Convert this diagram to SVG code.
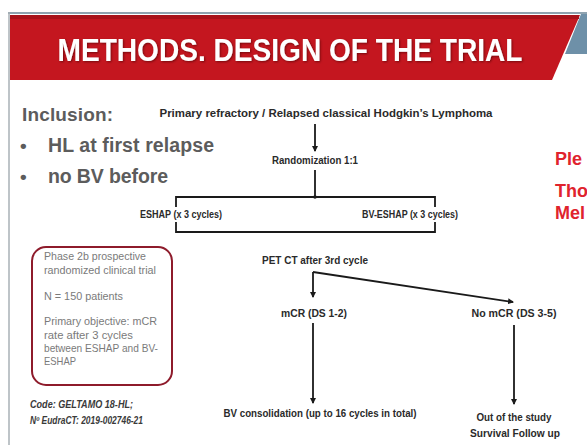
<svg xmlns="http://www.w3.org/2000/svg" width="587" height="445" viewBox="0 0 587 445">
  <style>
    .title { font-family: "Liberation Sans", Arial, sans-serif; font-weight: bold; font-size: 31px; fill: #ffffff; }
    .incl { font-family: "Liberation Sans", Arial, sans-serif; font-weight: bold; fill: #5c5c5c; }
    .flow { font-family: "Liberation Sans", Arial, sans-serif; font-weight: bold; font-size: 10px; fill: #2a2a2a; }
    .note { font-family: "Liberation Sans", Arial, sans-serif; font-size: 10.5px; fill: #7a7a7a; }
    .code { font-family: "Liberation Sans", Arial, sans-serif; font-weight: bold; font-style: italic; font-size: 10px; fill: #3a3a3a; }
    .side { font-family: "Liberation Sans", Arial, sans-serif; font-weight: bold; font-size: 18px; fill: #e0232d; }
    .wire { fill: none; stroke: #1a1a1a; stroke-width: 1.8; }
  </style>
  <defs>
    <marker id="arrow" viewBox="0 0 6 6" refX="5" refY="3" markerWidth="6" markerHeight="6" markerUnits="userSpaceOnUse" orient="auto">
      <path d="M0,0 L6,3 L0,6 z" fill="#1a1a1a"/>
    </marker>
    <filter id="shadow" x="-5%" y="-20%" width="110%" height="140%">
      <feDropShadow dx="1" dy="1" stdDeviation="0.8" flood-color="#400000" flood-opacity="0.6"/>
    </filter>
  </defs>

  <rect width="587" height="445" fill="#ffffff"/>

  <!-- slide frame -->
  <g id="frame">
    <line x1="8" y1="13" x2="587" y2="13" stroke="#8fa3b0" stroke-width="2"/>
    <line x1="9" y1="12" x2="9" y2="445" stroke="#a9b0b6" stroke-width="1.5"/>
  </g>

  <!-- header banner -->
  <g id="header">
    <polygon points="581,14 587,14 587,54 565,54" fill="#6e90a8"/>
    <polygon points="10,15 580,15 552,80 10,80" fill="#c4161f"/>
    <rect x="10" y="15" width="569" height="4" fill="#a8121a"/>
    <text class="title" x="290" y="61" text-anchor="middle" textLength="465" lengthAdjust="spacingAndGlyphs" filter="url(#shadow)">METHODS. DESIGN OF THE TRIAL</text>
  </g>

  <!-- inclusion criteria -->
  <g id="inclusion">
    <text class="incl" x="22" y="121" font-size="19" textLength="91">Inclusion:</text>
    <text class="incl" x="20" y="152" font-size="19">•</text>
    <text class="incl" x="48" y="152" font-size="19.5" textLength="166">HL at first relapse</text>
    <text class="incl" x="20" y="183" font-size="19">•</text>
    <text class="incl" x="48" y="183" font-size="19.5" textLength="120">no BV before</text>
  </g>

  <!-- flowchart nodes -->
  <g id="node-population">
    <text class="flow" x="326" y="117" text-anchor="middle" textLength="333" lengthAdjust="spacingAndGlyphs">Primary refractory / Relapsed classical Hodgkin’s Lymphoma</text>
  </g>
  <g id="node-randomization">
    <text class="flow" x="315" y="164" text-anchor="middle" textLength="86" lengthAdjust="spacingAndGlyphs">Randomization 1:1</text>
  </g>
  <g id="node-eshap">
    <text class="flow" x="181" y="218" text-anchor="middle" textLength="82" lengthAdjust="spacingAndGlyphs">ESHAP (x 3 cycles)</text>
  </g>
  <g id="node-bv-eshap">
    <text class="flow" x="410" y="218" text-anchor="middle" textLength="96" lengthAdjust="spacingAndGlyphs">BV-ESHAP (x 3 cycles)</text>
  </g>
  <g id="node-petct">
    <text class="flow" x="315" y="264" text-anchor="middle" textLength="106" lengthAdjust="spacingAndGlyphs">PET CT after 3rd cycle</text>
  </g>
  <g id="node-mcr">
    <text class="flow" x="314" y="317" text-anchor="middle" textLength="66" lengthAdjust="spacingAndGlyphs">mCR (DS 1-2)</text>
  </g>
  <g id="node-no-mcr">
    <text class="flow" x="514" y="317" text-anchor="middle" textLength="85" lengthAdjust="spacingAndGlyphs">No mCR (DS 3-5)</text>
  </g>
  <g id="node-consolidation">
    <text class="flow" x="320" y="417" text-anchor="middle" textLength="193" lengthAdjust="spacingAndGlyphs">BV consolidation (up to 16 cycles in total)</text>
  </g>
  <g id="node-out">
    <text class="flow" x="514" y="421" text-anchor="middle" textLength="75" lengthAdjust="spacingAndGlyphs">Out of the study</text>
    <text class="flow" x="515" y="437" text-anchor="middle" textLength="90" lengthAdjust="spacingAndGlyphs">Survival Follow up</text>
  </g>

  <!-- connectors -->
  <g id="connectors">
    <path class="wire" d="M315,124 V151" marker-end="url(#arrow)"/>
    <path class="wire" d="M315,170 V197"/>
    <circle cx="315" cy="197" r="1.8" fill="#1a1a1a"/>
    <path class="wire" d="M176,207 V197 H435 V207"/>
    <path class="wire" d="M176,222 V232 H435 V222"/>
    <path class="wire" d="M313,272 V297" marker-end="url(#arrow)"/>
    <path class="wire" d="M313,272 L513,302" marker-end="url(#arrow)"/>
    <path class="wire" d="M313,323 V403" marker-end="url(#arrow)"/>
    <path class="wire" d="M514,325 V404" marker-end="url(#arrow)"/>
  </g>

  <!-- study summary box -->
  <g id="summary">
    <rect x="32" y="247" width="140" height="138" rx="14" ry="14" fill="#ffffff" stroke="#8e1b2b" stroke-width="2"/>
    <text class="note" x="44" y="260" textLength="102" lengthAdjust="spacingAndGlyphs">Phase 2b prospective</text>
    <text class="note" x="44" y="274" textLength="112" lengthAdjust="spacingAndGlyphs">randomized clinical trial</text>
    <text class="note" x="44" y="300" textLength="79" lengthAdjust="spacingAndGlyphs">N = 150 patients</text>
    <text class="note" x="44" y="325" textLength="113" lengthAdjust="spacingAndGlyphs">Primary objective: mCR</text>
    <text class="note" x="44" y="339" textLength="89" lengthAdjust="spacingAndGlyphs">rate after 3 cycles</text>
    <text class="note" x="44" y="352" textLength="114" lengthAdjust="spacingAndGlyphs">between ESHAP and BV-</text>
    <text class="note" x="44" y="365" textLength="32" lengthAdjust="spacingAndGlyphs">ESHAP</text>
  </g>

  <!-- trial codes -->
  <g id="codes">
    <text class="code" x="30" y="408" textLength="103" lengthAdjust="spacingAndGlyphs">Code: GELTAMO 18-HL;</text>
    <text class="code" x="30" y="424" textLength="113" lengthAdjust="spacingAndGlyphs">Nº EudraCT: 2019-002746-21</text>
  </g>

  <!-- neighbouring slide content, cut off at the edge -->
  <g id="side-text">
    <text class="side" x="555" y="165">Ple</text>
    <text class="side" x="555" y="197">Tho</text>
    <text class="side" x="555" y="219">Mel</text>
  </g>
</svg>
